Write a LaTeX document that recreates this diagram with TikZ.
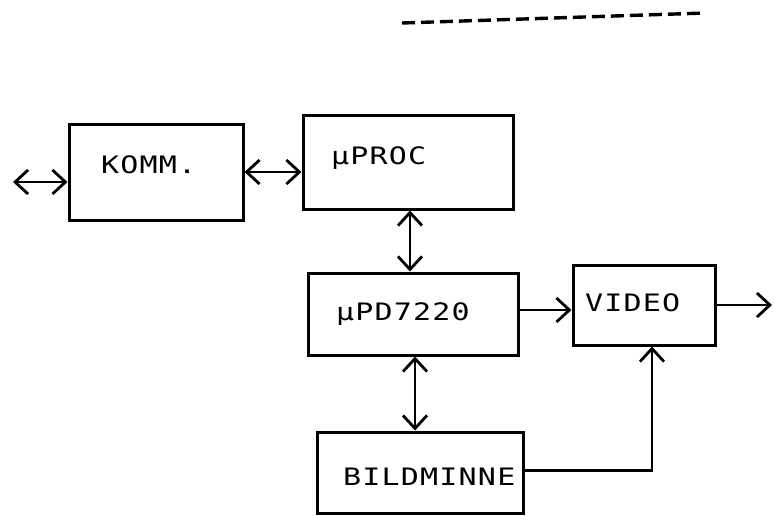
\documentclass[tikz,border=0pt]{standalone}
\usepackage{fontspec}
\usetikzlibrary{arrows.meta,calc}
\newfontfamily\dmfont[FakeStretch=1.25,LetterSpace=5]{DejaVu Sans Mono}
\begin{document}
\begin{tikzpicture}[x=1pt,y=-1pt,
  >={Straight Barb[length=13pt,width=24pt,line width=2.8pt]},
  box/.style={draw,line width=3pt,inner sep=0pt},
  lbl/.style={font=\dmfont\fontsize{24}{28}\selectfont,inner sep=0pt,anchor=base west},
  ar/.style={line width=2.8pt,->},
  dar/.style={line width=2.8pt,<->}]
\useasboundingbox (0,0) rectangle (774,515);
% dashed rule at top
\coordinate (d1) at (402,23);
\coordinate (d2) at (705,13);
\draw[line width=3.4pt,dash pattern=on 13pt off 6pt] (d1) -- (d2);
% boxes
\node[box,minimum width=174pt,minimum height=96pt] (komm) at (156,172) {};
\node[box,minimum width=210pt,minimum height=94pt] (proc) at (408,162) {};
\node[box,minimum width=210pt,minimum height=82pt] (pd) at (413,314) {};
\node[box,minimum width=142pt,minimum height=80pt] (video) at (644,305) {};
\node[box,minimum width=206pt,minimum height=81pt] (bild) at (420,472.5) {};
% labels
\node[lbl] (tkomm) at (101,173) {KOMM.};
\node[lbl] (tproc) at (331,164) {µPROC};
\node[lbl] (tpd) at (336,320) {µPD7220};
\node[lbl] (tvideo) at (585,311) {VIDEO};
\node[lbl] (tbild) at (343,485) {BILDMINNE};
% connectors
\coordinate (ext) at (13,182);
\coordinate (out) at (772,303);
\draw[dar] (ext) -- (ext -| komm.west);
\draw[dar] (komm.east) -- (komm.east -| proc.west);
\draw[dar] ($(proc.south)+(2,0)$) -- ($(proc.south |- pd.north)+(2,0)$);
\draw[ar] ($(pd.east)+(0,-4)$) -- ($(pd.east -| video.west)+(0,-4)$);
\draw[ar] (video.east) -- (video.east -| out);
\draw[dar] ($(pd.south)+(2,0)$) -- ($(pd.south |- bild.north)+(2,0)$);
\draw[ar] ($(bild.east)+(0,-2)$) -| ($(video.south)+(8,0)$);
\end{tikzpicture}
\end{document}
